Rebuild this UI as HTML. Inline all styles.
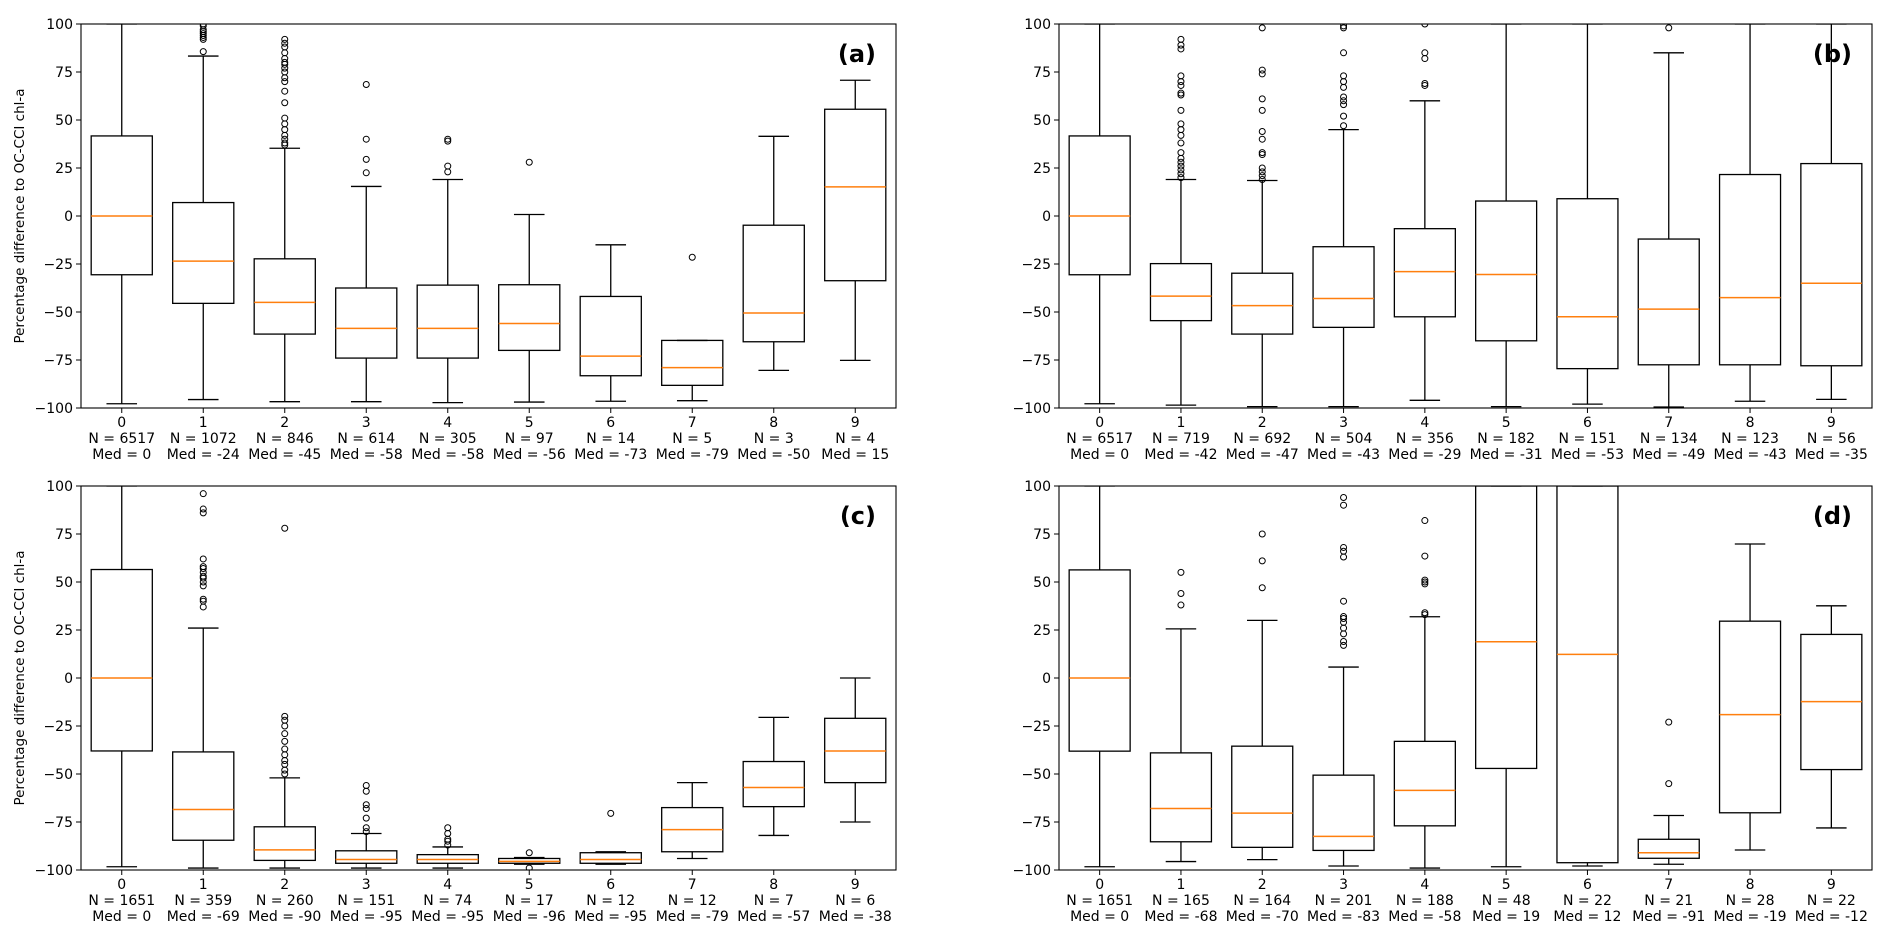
<!DOCTYPE html>
<html><head><meta charset="utf-8"><style>
html,body{margin:0;padding:0;background:#fff;width:1892px;height:938px;overflow:hidden}
svg text{font-family:"DejaVu Sans","Liberation Sans",sans-serif;fill:#000}
</style></head><body>
<svg id="chart" width="1892" height="938" xmlns="http://www.w3.org/2000/svg"></svg>
<script>
// ---- data ----
const categories = ["0","1","2","3","4","5","6","7","8","9"];
const yTicks = [100,75,50,25,0,-25,-50,-75,-100];
// panel a
const aN = [6517,1072,846,614,305,97,14,5,3,4];
const aMed = [0,-23.5,-45,-58.5,-58.5,-56,-73,-79,-50.5,15.2];
const aQ1 = [-30.6,-45.5,-61.5,-74,-74,-70,-83.2,-88.2,-65.5,-33.7];
const aQ3 = [41.7,7,-22.3,-37.5,-36,-35.8,-41.9,-64.8,-4.8,55.6];
const aLo = [-97.8,-95.6,-96.7,-96.7,-97.2,-96.9,-96.5,-96.2,-80.4,-75.2];
const aHi = [100,83.3,35.3,15.4,19,0.8,-15,-64.8,41.5,70.7];
const aFliers = [[],[85.6,92,93,94,95,96,97,99,100],[37,38,40,42,45,48,51,59,65,70,72,75,77,79,80,82,85,88,90,92],[22.5,29.5,40,68.5],[23,26,39,40],[28],[],[-21.5],[],[]];
const aMedLabels = [0,-24,-45,-58,-58,-56,-73,-79,-50,15];
// panel b
const bN = [6517,719,692,504,356,182,151,134,123,56];
const bMed = [0,-41.7,-46.7,-43,-29,-30.5,-52.5,-48.5,-42.5,-35];
const bQ1 = [-30.6,-54.5,-61.5,-58,-52.5,-65,-79.5,-77.5,-77.5,-78];
const bQ3 = [41.7,-24.8,-29.8,-16,-6.6,7.8,9,-12,21.6,27.3];
const bLo = [-97.8,-98.5,-99.3,-99.3,-96,-99.3,-98,-99.5,-96.5,-95.5];
const bHi = [100,19,18.5,45,60,100,100,85,100,100];
const bFliers = [[],[20,22,24,26,28,30,33,38,42,45,48,55,63,64,68,70,73,87,89,92],[19,21,23,25,32,33,40,44,55,61,74,76,98],[47,52,58,60,62,67,70,73,85,98,99],[68,69,82,85,100],[],[],[98],[],[]];
const bMedLabels = [0,-42,-47,-43,-29,-31,-53,-49,-43,-35];
// panel c
const cN = [1651,359,260,151,74,17,12,12,7,6];
const cMed = [0,-68.5,-89.5,-94.5,-94.5,-95.5,-94.5,-79,-57,-38];
const cQ1 = [-38,-84.5,-95,-96.5,-96.5,-96.5,-96.5,-90.5,-67,-54.5];
const cQ3 = [56.5,-38.5,-77.5,-90,-92,-94,-91,-67.5,-43.5,-21];
const cLo = [-98.3,-99,-99,-99,-99,-97,-97,-94,-82,-75];
const cHi = [100,26,-52,-81,-88,-93.5,-90.5,-54.5,-20.5,0];
const cFliers = [[],[37,40,41,48,50,52,53,55,57,58,62,86,88,96],[-50,-48,-45,-43,-40,-37,-33,-29,-25,-22,-20,78],[-80,-78,-73,-68,-66,-59,-56],[-87,-85,-84,-81,-78],[-91,-99],[-70.5],[],[],[]];
const cMedLabels = [0,-69,-90,-95,-95,-96,-95,-79,-57,-38];
// panel d
const dN = [1651,165,164,201,188,48,22,21,28,22];
const dMed = [0,-68,-70.4,-82.5,-58.5,18.9,12.3,-91,-19.1,-12.3];
const dQ1 = [-38.1,-85.3,-88.2,-89.8,-77,-47.1,-96.2,-93.9,-70.2,-47.7];
const dQ3 = [56.3,-39,-35.5,-50.6,-33,100,100,-84,29.6,22.7];
const dLo = [-98.3,-95.6,-94.6,-97.9,-99,-98.3,-97.9,-97,-89.6,-78.1];
const dHi = [100,25.6,30,5.7,31.9,100,100,-71.6,69.8,37.6];
const dFliers = [[],[38,44,55],[47,61,75],[17,19,23,26,29,31,32,40,63,66,68,90,94],[33,34,49,50,51,63.5,82],[],[],[-55,-23],[],[]];
const dMedLabels = [0,-68,-70,-83,-58,19,12,-91,-19,-12];

const NS = "http://www.w3.org/2000/svg";
const svg = document.getElementById('chart');
function mk(tag, attrs, parent){
  const e = document.createElementNS(NS, tag);
  for (const k in attrs) e.setAttribute(k, attrs[k]);
  (parent||svg).appendChild(e);
  return e;
}
function fmt(v){ return v<0 ? "\u2212"+Math.abs(v) : String(v); }
function fmtLbl(v){ return v<0 ? "-"+Math.abs(v) : String(v); }

function panel(key, L, R, T, B, letter, showYLabel, N, med, q1, q3, lo, hi, fl, medLbl){
  const g = mk('g', {});
  
  
  const W = R-L, H = B-T, n = categories.length, sp = W/n;
  const xs = i => L + sp*(i+0.5);
  const ys = v => B - (Math.max(-100,Math.min(100,v))+100)/200*H;
  const bw = sp*0.75, cw = bw/2;
  // clip
  const cid = 'clip-'+key;
  const cp = mk('clipPath', {id: cid}, g);
  mk('rect', {x:L, y:T, width:W, height:H}, cp);
  const plot = mk('g', {'clip-path':'url(#'+cid+')'}, g);
  const st = {stroke:'#000','stroke-width':1.3,fill:'none'};
  for (let i=0;i<n;i++){
    const x = xs(i);
    const bg = mk('g', {}, plot);
    
    
    mk('line', Object.assign({x1:x,x2:x,y1:ys(q3[i]),y2:ys(hi[i])},st), bg);
    mk('line', Object.assign({x1:x,x2:x,y1:ys(q1[i]),y2:ys(lo[i])},st), bg);
    mk('line', Object.assign({x1:x-cw/2,x2:x+cw/2,y1:ys(hi[i]),y2:ys(hi[i])},st), bg);
    mk('line', Object.assign({x1:x-cw/2,x2:x+cw/2,y1:ys(lo[i]),y2:ys(lo[i])},st), bg);
    mk('rect', Object.assign({x:x-bw/2,y:ys(q3[i]),width:bw,height:ys(q1[i])-ys(q3[i])},st), bg);
    mk('line', {x1:x-bw/2,x2:x+bw/2,y1:ys(med[i]),y2:ys(med[i]),stroke:'#ff7f0e','stroke-width':1.5}, bg);
    fl[i].forEach(v=>{
      const c = mk('circle', {cx:x, cy:ys(v), r:3, fill:'none', stroke:'#000','stroke-width':1}, bg);
      
      
    });
    const tl = mk('text', {x:x, y:B+19, 'font-size':14, 'text-anchor':'middle'}, g);
    
    
    tl.textContent = categories[i];
    mk('line', {x1:x,x2:x,y1:B,y2:B+5,stroke:'#000','stroke-width':1}, g);
    const nl = mk('text', {x:x, y:B+35, 'font-size':14, 'text-anchor':'middle'}, g);
    
    
    nl.textContent = 'N = '+N[i];
    const ml = mk('text', {x:x, y:B+51, 'font-size':14, 'text-anchor':'middle'}, g);
    
    
    ml.textContent = 'Med = '+fmtLbl(medLbl[i]);
  }
  yTicks.forEach(v=>{
    mk('line', {x1:L-5,x2:L,y1:ys(v),y2:ys(v),stroke:'#000','stroke-width':1}, g);
    const t = mk('text', {x:L-8, y:ys(v)+5, 'font-size':14, 'text-anchor':'end'}, g);
    
    
    t.textContent = fmt(v);
  });
  const fr = mk('rect', {x:L,y:T,width:W,height:H,fill:'none',stroke:'#000','stroke-width':1.1}, g);
  
  
  const lt = mk('text', {x:R-20, y:T+38, 'font-size':24, 'font-weight':'bold', 'text-anchor':'end'}, g);
  
  
  lt.textContent = letter;
  if (showYLabel){
    const yc = (T+B)/2;
    const yl = mk('text', {x:24, y:yc, 'font-size':13.5, 'text-anchor':'middle', transform:'rotate(-90 24 '+yc+')'}, g);
    
    
    yl.textContent = 'Percentage difference to OC-CCI chl-a';
  }
}
panel('a', 81, 896, 24, 408, '(a)', true, aN, aMed, aQ1, aQ3, aLo, aHi, aFliers, aMedLabels);
panel('b', 1059, 1872, 24, 408, '(b)', false, bN, bMed, bQ1, bQ3, bLo, bHi, bFliers, bMedLabels);
panel('c', 81, 896, 486, 870, '(c)', true, cN, cMed, cQ1, cQ3, cLo, cHi, cFliers, cMedLabels);
panel('d', 1059, 1872, 486, 870, '(d)', false, dN, dMed, dQ1, dQ3, dLo, dHi, dFliers, dMedLabels);
</script>
</body></html>
